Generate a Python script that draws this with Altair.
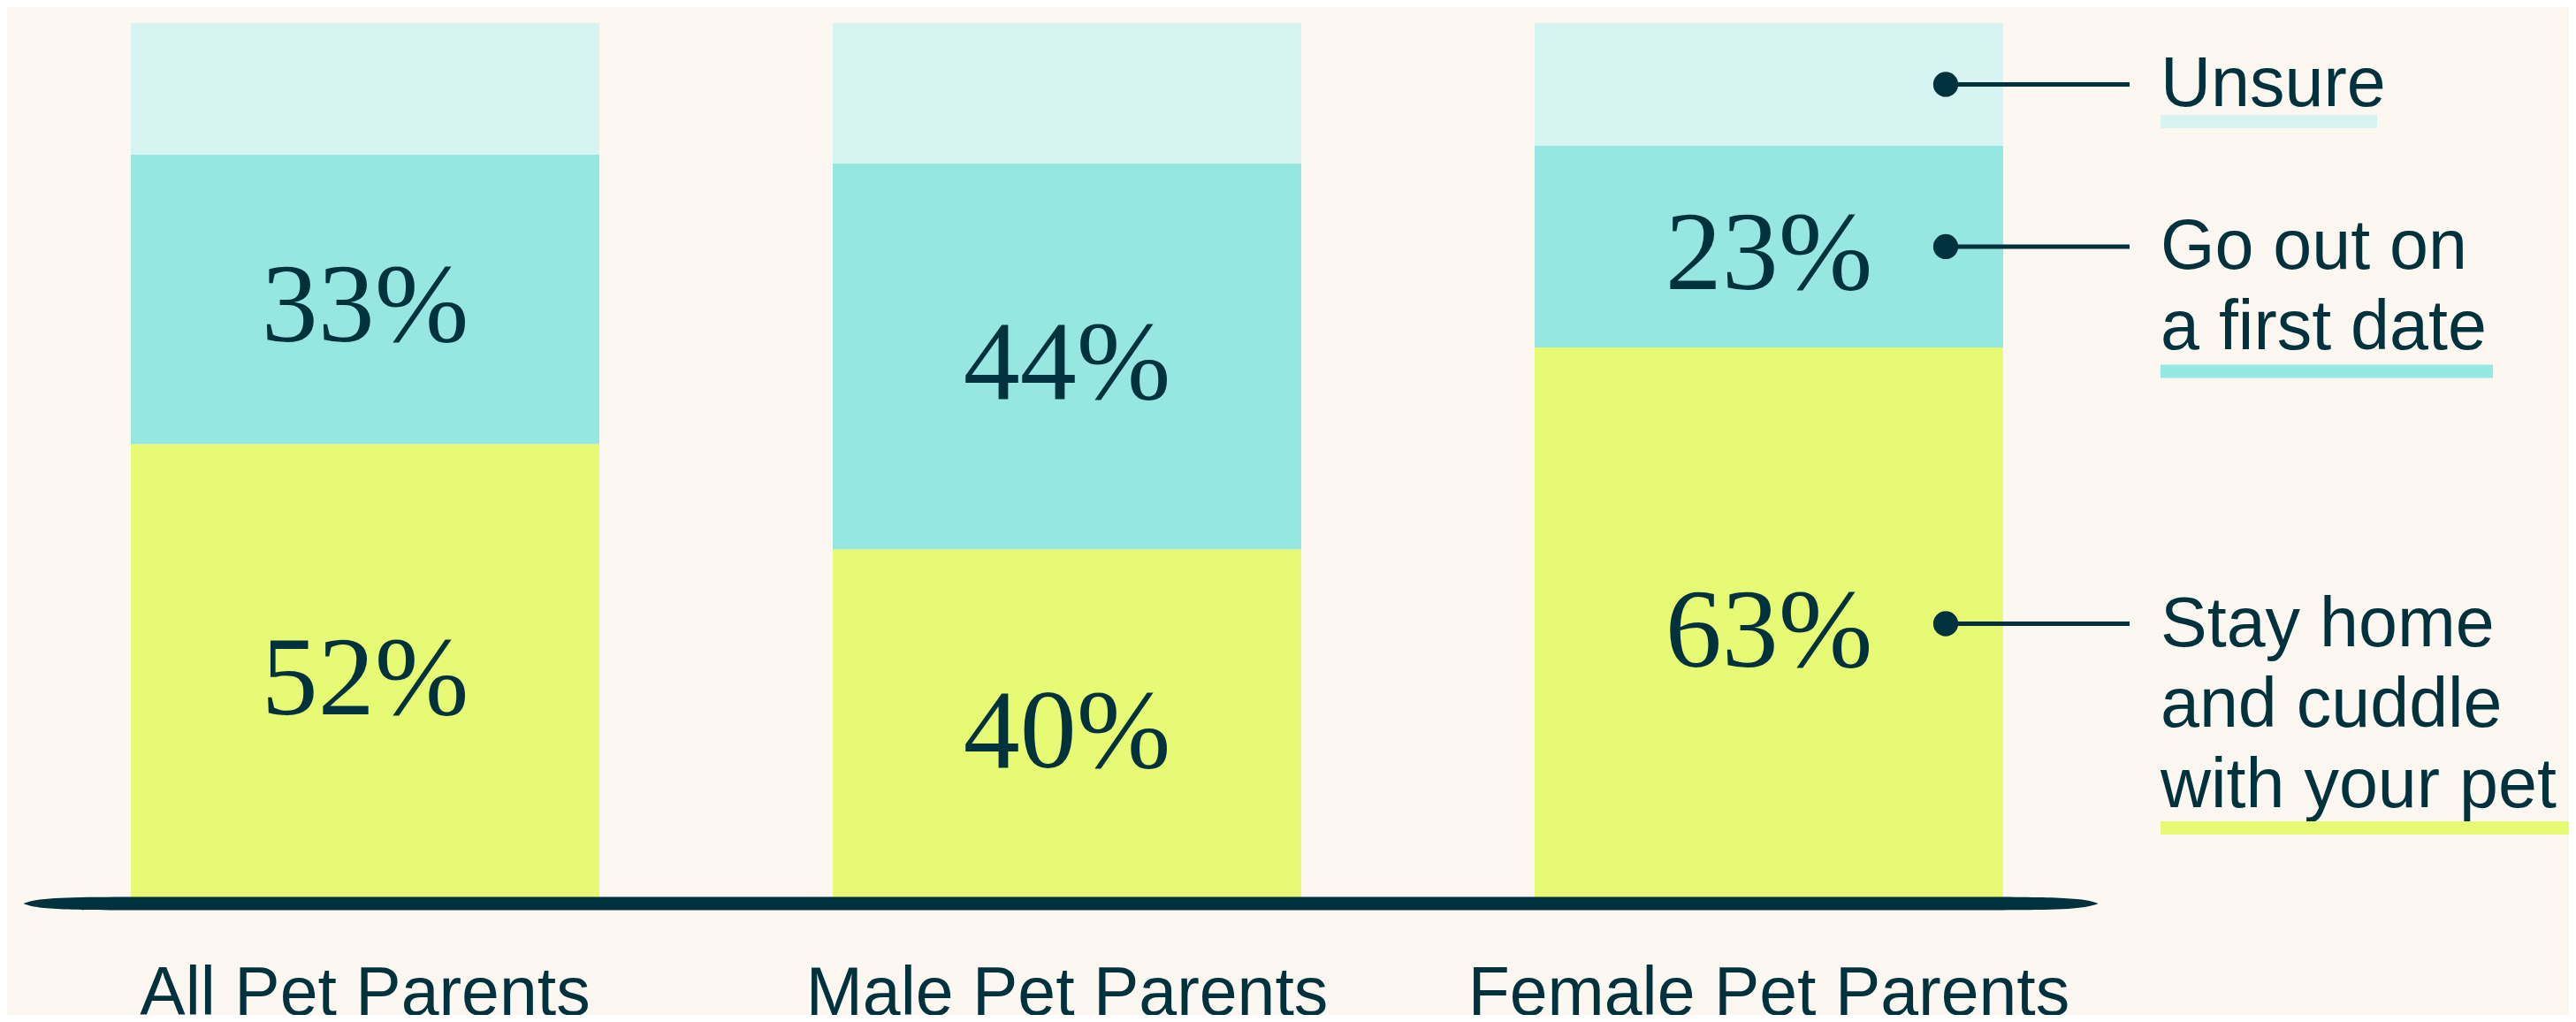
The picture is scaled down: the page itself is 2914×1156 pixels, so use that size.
import altair as alt
import pandas as pd

# ---- data ----
groups = ["All Pet Parents", "Male Pet Parents", "Female Pet Parents"]
categories = ["Stay home and cuddle with your pet", "Go out on a first date", "Unsure"]
stay = [52, 40, 63]
go_out = [33, 44, 23]
unsure = [15, 16, 14]
legend_text = ["Stay home\nand cuddle\nwith your pet", "Go out on\na first date", "Unsure"]
show_value = [True, True, False]

# ---- style ----
colors = ["#e6fa74", "#96e6e2", "#d6f4f2"]
dark = "#00323d"
bg = "#fcf7f1"

rows = []
for gi, g in enumerate(groups):
    base = 0
    for ci, (c, vals) in enumerate(zip(categories, [stay, go_out, unsure])):
        v = vals[gi]
        rows.append(dict(group=g, category=c, value=v, y0=base, y1=base + v,
                         mid=base + v / 2, label=f"{v}%", show=show_value[ci],
                         legend=legend_text[ci]))
        base += v
df = pd.DataFrame(rows)

W, H = 2382, 992
x_enc = alt.X("group:N", sort=groups,
              scale=alt.Scale(paddingInner=0.3325, paddingOuter=0.16625), axis=None)
y_scale = alt.Scale(domain=[0, 100])

base_chart = alt.Chart(df)

bars = base_chart.mark_bar(stroke=None).encode(
    x=x_enc,
    y=alt.Y("y1:Q", scale=y_scale, axis=None),
    y2="y0:Q",
    color=alt.Color("category:N", scale=alt.Scale(domain=categories, range=colors), legend=None),
)

values = base_chart.transform_filter("datum.show").mark_text(
    font="Liberation Serif", fontSize=128, color=dark, baseline="middle", dy=10
).encode(x=x_enc, y=alt.Y("mid:Q", scale=y_scale, axis=None), text="label:N")

cat_df = pd.DataFrame({"group": groups})
cat_labels = alt.Chart(cat_df).mark_text(
    font="Liberation Sans", fontSize=77, color=dark, baseline="alphabetic"
).encode(x=x_enc, y=alt.value(1122), text="group:N")

lens = "M -1 0 C -0.985 -0.0066 -0.95 -0.0064 -0.85 -0.0064 L 0.85 -0.0064 C 0.95 -0.0064 0.985 -0.0066 1 0 C 0.985 0.0066 0.95 0.0064 0.85 0.0064 L -0.85 0.0064 C -0.95 0.0064 -0.985 0.0066 -1 0 Z"
baseline = alt.Chart(pd.DataFrame({"a": [0]})).mark_point(
    shape=lens, size=2347 ** 2, filled=True, color=dark, opacity=1, strokeWidth=0
).encode(x=alt.value(1184), y=alt.value(996))

fem = base_chart.transform_filter(alt.datum.group == "Female Pet Parents")
y_mid = alt.Y("mid:Q", scale=y_scale, axis=None)

dots = fem.mark_circle(size=800, color=dark, opacity=1).encode(x=alt.value(2185), y=y_mid)
connectors = fem.mark_rule(strokeWidth=5, color=dark).encode(
    x=alt.value(2185), x2=alt.value(2393), y=y_mid)
leg_text = fem.mark_text(
    font="Liberation Sans", fontSize=79, color=dark, align="left",
    baseline="alphabetic", dy=25, lineHeight=91, lineBreak="\n"
).encode(x=alt.value(2428), y=y_mid, text="legend:N")

underline_len = {"Unsure": 245, "Go out on a first date": 376, "Stay home and cuddle with your pet": 462}
underline_off = {"Unsure": 42, "Go out on a first date": 141, "Stay home and cuddle with your pet": 231}
underlines = []
for c, col in zip(categories, colors):
    underlines.append(
        fem.transform_filter(alt.datum.category == c).mark_rule(strokeWidth=15, color=col).encode(
            x=alt.value(2428), x2=alt.value(2428 + underline_len[c]), y=y_mid,
            yOffset=alt.value(underline_off[c]))
    )

chart = alt.layer(bars, values, baseline, cat_labels, connectors, dots, leg_text, *underlines).properties(
    width=W, height=H,
    autosize=alt.AutoSizeParams(type="none"),
    padding={"left": 8, "top": 18, "right": 508, "bottom": 130},
    background=bg,
).configure_view(stroke=None)

chart.save("out.html", embed_options={"renderer": "svg", "actions": False})
